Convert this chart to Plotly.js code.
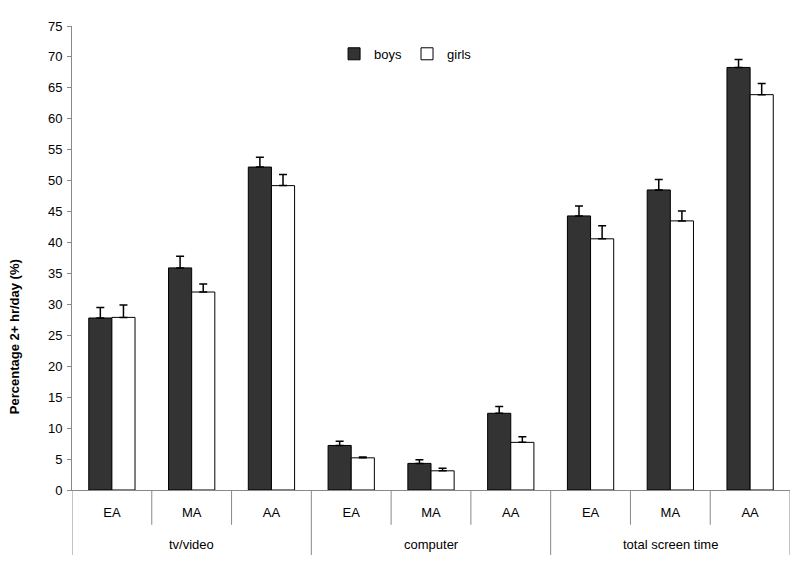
<!DOCTYPE html>
<html><head><meta charset="utf-8">
<script src="https://cdn.plot.ly/plotly-3.0.1.min.js"></script>
<style>body{margin:0;background:#fff}#chart{width:800px;height:571px}</style>
</head><body><div id="chart"></div>
<script>
const groups = ["tv/video", "computer", "total screen time"];
const subLabels = ["EA", "MA", "AA"];
const boys = [27.8, 35.9, 52.2, 7.2, 4.3, 12.4, 44.3, 48.5, 68.3];
const boysErr = [1.7, 1.9, 1.6, 0.7, 0.6, 1.1, 1.6, 1.7, 1.3];
const girls = [27.9, 32.0, 49.2, 5.2, 3.1, 7.7, 40.6, 43.5, 63.9];
const girlsErr = [2.0, 1.3, 1.8, 0.15, 0.4, 0.9, 2.1, 1.6, 1.8];
const yTicks = [0,5,10,15,20,25,30,35,40,45,50,55,60,65,70,75];
const yTitle = "Percentage 2+ hr/day (%)";

const n = groups.length * subLabels.length;
const xIdx = Array.from({length: n}, (_, i) => i);
const tickText = [];
groups.forEach(() => subLabels.forEach(s => tickText.push(s)));

const fam = "Liberation Sans, Arial, sans-serif";
const font = {family: fam, size: 13, color: "#000"};

const traces = [
  {type: "bar", name: "boys", x: xIdx, y: boys,
   marker: {color: "#333333", line: {color: "#000", width: 1}},
   error_y: {type: "data", array: boysErr, symmetric: false, arrayminus: boysErr.map(() => 0),
             color: "#000", thickness: 1.5, width: 4}},
  {type: "bar", name: "girls", x: xIdx, y: girls,
   marker: {color: "#ffffff", line: {color: "#000", width: 1}},
   error_y: {type: "data", array: girlsErr, symmetric: false, arrayminus: girlsErr.map(() => 0),
             color: "#000", thickness: 1.5, width: 4}}
];

const shapes = [];
const annotations = [];
for (let b = 0; b <= n; b++) {
  const isGroup = b % subLabels.length === 0;
  shapes.push({type: "line", xref: "x", yref: "paper", x0: b - 0.5, x1: b - 0.5,
               y0: 0, y1: isGroup ? -0.14 : -0.075, line: {color: "#888", width: 1}});
}
groups.forEach((g, gi) => {
  annotations.push({text: g, xref: "x", yref: "paper", x: gi * subLabels.length + (subLabels.length - 1) / 2,
                    y: -0.117, yanchor: "middle", showarrow: false, font: font});
});
annotations.push({text: "<b>" + yTitle + "</b>", textangle: -90, xref: "paper", yref: "paper",
                  x: -0.079, y: 0.33, xanchor: "center", yanchor: "middle", showarrow: false,
                  font: {family: fam, size: 13, color: "#000"}});

const layout = {
  width: 800, height: 571,
  margin: {l: 72, r: 10, t: 26, b: 81},
  paper_bgcolor: "#fff", plot_bgcolor: "#fff",
  font: font,
  barmode: "group", bargap: 0.42, bargroupgap: 0,
  showlegend: true,
  legend: {orientation: "h", x: 0.365, y: 0.94, xanchor: "left", yanchor: "middle",
           font: {family: fam, size: 13, color: "#000"}, itemwidth: 30,
           bgcolor: "rgba(0,0,0,0)"},
  xaxis: {range: [-0.5, n - 0.5], tickmode: "array", tickvals: xIdx, ticktext: tickText,
          ticks: "", showline: true, linecolor: "#888", linewidth: 1, showgrid: false,
          zeroline: false, tickfont: font, ticklabelstandoff: 10, fixedrange: true},
  yaxis: {range: [0, 75], tickmode: "array", tickvals: yTicks, ticks: "outside", ticklen: 4,
          tickcolor: "#888", showline: true, linecolor: "#888", linewidth: 1, showgrid: false,
          zeroline: false, tickfont: font, ticklabelstandoff: 2},
  shapes: shapes, annotations: annotations
};

Plotly.newPlot("chart", traces, layout, {displayModeBar: false, staticPlot: true});
</script></body></html>
